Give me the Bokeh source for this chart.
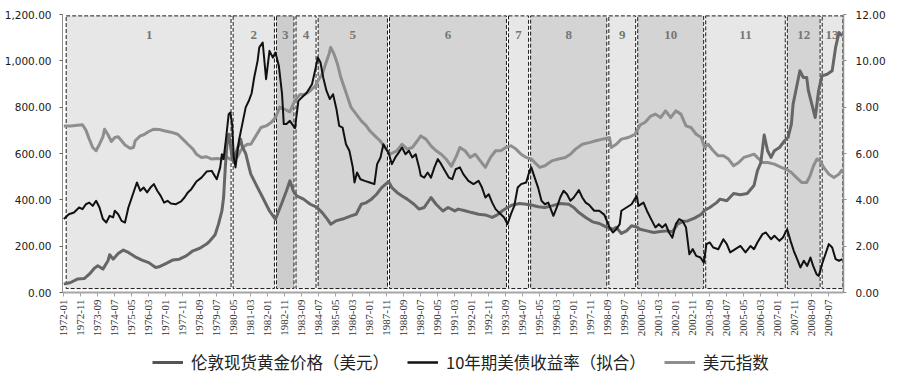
import math
from bokeh.plotting import figure
from bokeh.layouts import column
from bokeh.models import (Range1d, LinearAxis, FixedTicker, NumeralTickFormatter,
                          Legend, LegendItem)
from bokeh.core.properties import value
from bokeh.embed import file_html
from bokeh.resources import INLINE

# ---------------- data ----------------
# x values are months counted from 1972-01
tick_labels = ["1972-01", "1972-11", "1973-09", "1974-07", "1975-05", "1976-03", "1977-01",
               "1977-11", "1978-09", "1979-07", "1980-05", "1981-03", "1982-01", "1982-11",
               "1983-09", "1984-07", "1985-05", "1986-03", "1987-01", "1987-11", "1988-09",
               "1989-07", "1990-05", "1991-03", "1992-01", "1992-11", "1993-09", "1994-07",
               "1995-05", "1996-03", "1997-01", "1997-11", "1998-09", "1999-07", "2000-05",
               "2001-03", "2002-01", "2002-11", "2003-09", "2004-07", "2005-05", "2006-03",
               "2007-01", "2007-11", "2008-09", "2009-07"]

region_names = ["1", "2", "3", "4", "5", "6", "7", "8", "9", "10", "11", "12", "13"]
region_edges = [1.4, 99, 124.5, 136, 149, 191, 261, 274, 320, 337, 377, 425, 445.5, 458.3]

series_names = ["伦敦现货黄金价格（美元）", "10年期美债收益率（拟合）", "美元指数"]

gold_month = [0, 4, 8, 12, 15, 18, 20, 23, 26, 27, 29, 32, 35, 38, 42, 46, 50, 54, 56, 60, 64, 68,
              72, 76, 80, 84, 86, 89, 91, 93, 94, 95, 96, 97, 98, 99, 100, 101, 103, 104, 105, 107,
              109, 110, 114, 117, 121, 124.5, 128, 131, 133, 135, 137, 141, 145, 149, 152, 155, 157,
              160, 164, 169, 172, 175, 178, 181, 184, 187, 191, 193, 196, 199, 202, 206, 209, 212,
              216, 219, 223, 226, 230, 232, 236, 240, 244, 248, 252, 255, 258, 261, 264, 268, 272,
              275, 279, 283, 287, 292, 297, 300, 303, 307, 311, 315, 319, 323, 325, 328, 331, 334,
              337, 339, 343, 347, 351, 355, 358, 361, 364, 367, 371, 375, 377, 380, 384, 386, 390,
              394, 398, 402, 406, 408, 410, 412, 414, 416, 418, 421, 424, 426, 428, 429, 431, 433,
              435, 437, 438, 440, 442, 444, 446, 449, 452, 454, 456, 458]
gold_usd = [36, 43, 58, 60, 79, 105, 115, 101, 137, 163, 144, 168, 183, 173, 154, 140, 129, 108, 111,
            125, 140, 144, 158, 180, 191, 209, 223, 249, 295, 352, 410, 540, 640, 683, 640, 583, 561,
            597, 640, 662, 630, 600, 540, 511, 453, 410, 352, 316, 381, 439, 482, 439, 417, 403, 381,
            367, 345, 317, 295, 309, 317, 331, 338, 381, 388, 403, 424, 453, 479, 453, 432, 417, 403,
            381, 360, 367, 410, 381, 352, 367, 352, 360, 353, 345, 338, 335, 324, 335, 353, 367, 378,
            384, 381, 378, 370, 367, 374, 384, 381, 367, 345, 324, 305, 298, 283, 273, 281, 255, 266,
            288, 283, 273, 266, 259, 263, 266, 262, 295, 306, 309, 321, 338, 355, 367, 388, 403, 396,
            427, 422, 427, 462, 525, 560, 680, 612, 583, 612, 626, 655, 669, 727, 813, 885, 957, 928,
            928, 871, 813, 755, 871, 935, 942, 957, 1058, 1122, 1108]

yield_month = [0, 3, 6, 9, 11, 13, 15, 17, 19, 21, 23, 25, 27, 29, 30, 32, 34, 36, 38, 40, 43, 45,
               47, 49, 51, 53, 55, 57, 59, 61, 63, 66, 69, 71, 73, 75, 77, 78, 81, 84, 87, 90, 92,
               93, 94, 95.5, 97, 98, 99, 100, 101, 102, 103, 105, 107, 109, 110.5, 112, 114, 115,
               117, 119, 121, 123, 124.5, 126.5, 128.4, 129.4, 131, 133, 136, 138, 140, 143, 146,
               148, 149.4, 151, 152.6, 154.5, 156.5, 158.4, 160.4, 162, 164, 166, 168, 170, 171,
               172.5, 174.5, 177, 180, 182.7, 184.3, 186.3, 188, 189, 191, 193, 195, 197, 199, 201,
               203, 205, 207, 209, 210, 212, 214, 216, 218, 220, 222, 224, 226.5, 228.5, 230.5, 233,
               235, 238, 241, 244, 246, 248, 250, 252, 254, 256, 259, 261, 263, 265, 267, 269, 272,
               274, 275, 277, 279, 281, 283, 285, 288, 290, 292, 294, 296, 298, 300, 303, 305, 307,
               309, 312, 315, 318, 321, 323, 325, 327, 328, 331, 334, 337, 338, 341, 343, 346, 348,
               350, 352, 354, 356, 358, 360, 362, 364, 366, 368, 370, 372, 374.5, 376.5, 378, 380,
               382, 385, 388, 390, 392, 395, 398, 401, 404, 406, 408, 411, 413, 416, 418, 421, 423,
               424.5, 425.5, 427.5, 429.4, 431.4, 433.3, 435.3, 437.3, 439.2, 440.8, 442.8, 444.1,
               446, 448, 450, 452, 454, 456, 458]
yield_fit = [3.17, 3.38, 3.45, 3.67, 3.60, 3.81, 3.88, 3.74, 3.96, 3.67, 3.17, 3.02, 3.31, 3.24, 3.53,
             3.38, 3.09, 3.02, 3.67, 4.10, 4.75, 4.39, 4.53, 4.32, 4.53, 4.68, 4.39, 4.17, 3.88, 3.96,
             3.84, 3.81, 3.93, 4.10, 4.32, 4.46, 4.68, 4.79, 4.96, 5.22, 5.25, 4.89, 5.40, 5.97, 5.76,
             6.69, 7.70, 7.77, 7.27, 5.83, 5.40, 5.97, 6.55, 7.27, 7.99, 8.30, 8.60, 9.28, 10.00,
             10.58, 10.79, 9.21, 10.43, 10.14, 10.36, 9.78, 8.56, 7.27, 7.27, 7.41, 7.09, 8.27, 8.42,
             8.63, 8.99, 9.64, 10.14, 9.93, 9.28, 8.71, 8.35, 8.56, 7.91, 7.19, 7.12, 6.40, 6.12, 5.40,
             4.75, 5.18, 4.89, 4.82, 4.75, 4.68, 5.54, 5.83, 6.40, 6.26, 6.04, 5.54, 5.83, 6.04, 6.26,
             5.97, 6.12, 5.83, 5.97, 5.40, 5.04, 4.96, 5.18, 4.96, 5.40, 5.76, 5.54, 5.28, 4.96, 4.89,
             5.32, 5.40, 5.11, 4.82, 4.68, 4.82, 4.53, 4.10, 4.24, 3.88, 3.60, 3.45, 3.24, 2.95, 3.38,
             3.74, 4.53, 4.68, 4.75, 5.25, 5.40, 4.96, 4.53, 3.96, 3.81, 3.88, 3.31, 3.67, 4.10, 4.39,
             4.24, 3.96, 4.10, 4.42, 4.10, 3.88, 3.78, 3.53, 3.53, 3.35, 2.81, 2.59, 2.73, 2.95, 3.53,
             3.67, 3.81, 4.17, 3.74, 3.88, 3.53, 3.09, 2.81, 2.95, 2.81, 2.95, 2.59, 2.37, 2.95, 3.17,
             3.09, 2.81, 1.65, 1.87, 1.58, 1.51, 1.29, 2.09, 2.16, 1.94, 1.87, 2.30, 2.09, 1.73, 1.87,
             2.01, 1.73, 2.01, 1.87, 2.16, 2.52, 2.59, 2.30, 2.45, 2.23, 2.37, 2.59, 2.73, 2.23, 1.80,
             1.44, 1.08, 1.37, 1.15, 1.51, 1.15, 0.79, 0.72, 1.22, 1.65, 2.09, 1.94, 1.44, 1.37, 1.44]

dxy_month = [0, 4, 8, 11, 13, 15, 17, 19, 21, 23, 24, 26, 28, 30, 32, 34, 36, 39, 41, 42, 45, 47, 50,
             53, 56, 59, 63, 67, 70, 73, 76, 78, 81, 84, 87, 90, 93, 96, 99, 102, 104, 106, 108, 110,
             113, 116, 119, 122, 124.5, 127, 130, 133, 136, 139, 142, 145, 148, 150, 152, 154, 156,
             157, 159, 161, 163, 165, 167, 169, 172, 175, 178, 180, 183, 186, 189, 192, 196, 199, 202,
             205, 208, 210, 213, 216, 219, 222, 225, 228, 231, 233, 236, 239, 242, 245, 248, 251, 254,
             257, 260, 263, 266, 269, 272, 275, 278, 280, 283, 287, 291, 295, 298, 301, 305, 309, 313,
             317, 321, 322, 325, 328, 332, 336, 339, 342, 345, 348, 351, 354, 357, 360, 363, 366, 369,
             372, 375, 377, 379, 382, 385, 388, 391, 394, 397, 400, 403, 406, 409, 411, 414, 418, 422,
             425, 428, 431, 434, 437, 439, 441, 443, 445, 447, 450, 453, 456, 458]
dxy_scaled = [7.19, 7.19, 7.22, 7.24, 7.01, 6.62, 6.26, 6.12, 6.40, 6.72, 7.05, 6.81, 6.52, 6.69, 6.72,
              6.55, 6.37, 6.23, 6.26, 6.55, 6.76, 6.81, 6.95, 7.05, 7.04, 6.98, 6.92, 6.83, 6.62, 6.40,
              6.19, 5.97, 5.83, 5.86, 5.76, 5.78, 5.76, 5.83, 5.71, 5.83, 6.12, 6.30, 6.40, 6.40, 6.76,
              7.12, 7.19, 7.34, 7.55, 8.00, 7.90, 7.80, 8.30, 8.55, 8.56, 8.71, 8.92, 9.21, 9.42, 9.86,
              10.29, 10.58, 10.29, 9.86, 9.28, 8.85, 8.42, 7.99, 7.70, 7.41, 7.19, 6.98, 6.76, 6.55,
              6.26, 5.97, 6.12, 6.40, 6.19, 6.26, 6.55, 6.76, 6.62, 6.33, 6.12, 5.97, 5.75, 5.45, 5.90,
              6.26, 6.12, 5.83, 5.97, 5.68, 5.40, 5.83, 6.12, 6.12, 6.26, 6.33, 6.19, 5.97, 5.83, 5.76,
              5.54, 5.40, 5.47, 5.68, 5.76, 5.83, 5.97, 6.19, 6.40, 6.47, 6.55, 6.62, 6.69, 6.26, 6.40,
              6.62, 6.69, 6.83, 7.23, 7.35, 7.60, 7.70, 7.55, 7.84, 7.55, 7.84, 7.70, 7.19, 7.12, 6.83,
              6.69, 6.26, 6.40, 6.12, 5.90, 5.90, 5.76, 5.47, 5.61, 5.83, 5.90, 5.97, 5.76, 5.61, 5.61,
              5.54, 5.40, 5.32, 5.18, 4.96, 4.75, 4.75, 5.04, 5.47, 5.76, 5.68, 5.40, 5.11, 4.96, 5.11,
              5.32]

left_ticks = [0, 200, 400, 600, 800, 1000, 1200]
right_ticks = [0, 2, 4, 6, 8, 10, 12]

# ---------------- styling ----------------
GOLD_C = "#666666"
DXY_C = "#8e8e8e"
YLD_C = "#111111"
LIGHT = "#e7e7e7"
DARK = "#d4d4d4"
region_fill = [LIGHT, LIGHT, "#cdcdcd", LIGHT, DARK, DARK, LIGHT, DARK, LIGHT, DARK, LIGHT, DARK, LIGHT]


def month_of(label):
    y, m = label.split("-")
    return (int(y) - 1972) * 12 + int(m) - 1


tick_pos = [month_of(t) for t in tick_labels]

p = figure(width=900, height=345, output_backend="svg", toolbar_location=None,
           x_range=Range1d(-0.76, 458.65), y_range=Range1d(0, 1200),
           min_border_left=62, min_border_right=57, min_border_top=14, min_border_bottom=53,
           outline_line_color=None, background_fill_color="white")
p.extra_y_ranges = {"right": Range1d(0, 12)}
p.xgrid.visible = False
p.ygrid.visible = False

# regions
n_reg = len(region_names)
r_left = [region_edges[i] + (0.6 if i > 0 else 0) for i in range(n_reg)]
r_right = [region_edges[i + 1] - (0.6 if i < n_reg - 1 else 0) for i in range(n_reg)]
p.quad(left=r_left, right=r_right, bottom=17, top=1194, fill_color=region_fill,
       line_color="#1a1a1a", line_dash="4 2", line_width=1)
mids = [(region_edges[i] + region_edges[i + 1]) / 2 for i in range(n_reg)]
p.text(x=mids, y=1112, text=region_names, text_font=value("Liberation Serif"),
       text_font_style="bold", text_font_size="13px", text_color="#767676",
       text_align="center", text_baseline="middle")

# lines
p.line(dxy_month, dxy_scaled, y_range_name="right", line_color=DXY_C, line_width=3,
       line_join="round")
p.line(gold_month, gold_usd, line_color=GOLD_C, line_width=3, line_join="round")
p.line(yield_month, yield_fit, y_range_name="right", line_color=YLD_C, line_width=2,
       line_join="round")

# axes
xa = p.xaxis[0]
xa.ticker = FixedTicker(ticks=tick_pos)
xa.major_label_overrides = {tp: lab for tp, lab in zip(tick_pos, tick_labels)}
xa.major_label_orientation = math.pi / 2
xa.major_label_text_font = "Liberation Serif"
xa.major_label_text_font_size = "11px"
xa.major_label_text_color = "#333333"
xa.axis_line_color = "#a6a6a6"
xa.axis_line_width = 2
xa.major_tick_line_color = "#a6a6a6"
xa.major_tick_out = 4
xa.major_tick_in = 0
xa.minor_tick_line_color = None
xa.major_label_standoff = 3

ya = p.yaxis[0]
ya.ticker = FixedTicker(ticks=left_ticks)
ya.formatter = NumeralTickFormatter(format="0,0.00")
ya.major_label_text_font = "DejaVu Sans"
ya.major_label_text_font_size = "10.5px"
ya.major_label_text_color = "#1a1a1a"
ya.axis_line_color = "#909090"
ya.major_tick_line_color = "#606060"
ya.major_tick_out = 3
ya.major_tick_in = 0
ya.minor_tick_line_color = None
ya.major_label_standoff = 8

ra = LinearAxis(y_range_name="right", ticker=FixedTicker(ticks=right_ticks),
                formatter=NumeralTickFormatter(format="0.00"))
ra.major_label_text_font = "DejaVu Sans"
ra.major_label_text_font_size = "10.5px"
ra.major_label_text_color = "#1a1a1a"
ra.axis_line_color = "#909090"
ra.axis_line_width = 1.5
ra.major_tick_line_color = "#909090"
ra.major_tick_out = 3
ra.major_tick_in = 0
ra.minor_tick_line_color = None
ra.major_label_standoff = 9
p.add_layout(ra, "right")

# legend strip (separate small figure below the chart; its frame aligns with the chart's)
lg = figure(width=900, height=30, output_backend="svg", toolbar_location=None,
            x_range=Range1d(0, 1), y_range=Range1d(0, 1),
            min_border_left=0, min_border_right=0, min_border_top=0, min_border_bottom=0,
            outline_line_color=None)
lg.axis.visible = False
lg.xgrid.visible = False
lg.ygrid.visible = False
nan = float("nan")
k_gold = lg.line(x=[nan], y=[nan], line_color="#555555", line_width=3)
k_yld = lg.line(x=[nan], y=[nan], line_color=YLD_C, line_width=2.5)
k_dxy = lg.line(x=[nan], y=[nan], line_color=DXY_C, line_width=3)
legend = Legend(items=[LegendItem(label=series_names[0], renderers=[k_gold]),
                       LegendItem(label=series_names[1], renderers=[k_yld]),
                       LegendItem(label=series_names[2], renderers=[k_dxy])],
                orientation="horizontal", location=(90, 1),
                label_text_font="Noto Sans CJK SC", label_text_font_size="16.5px",
                label_text_color="#222222", label_height=20, glyph_height=20,
                glyph_width=31, label_standoff=8, spacing=18, padding=0, margin=0,
                border_line_alpha=0, background_fill_alpha=0)
lg.add_layout(legend)

layout = column(p, lg, spacing=0)
open("out.html", "w").write(file_html(layout, INLINE))
